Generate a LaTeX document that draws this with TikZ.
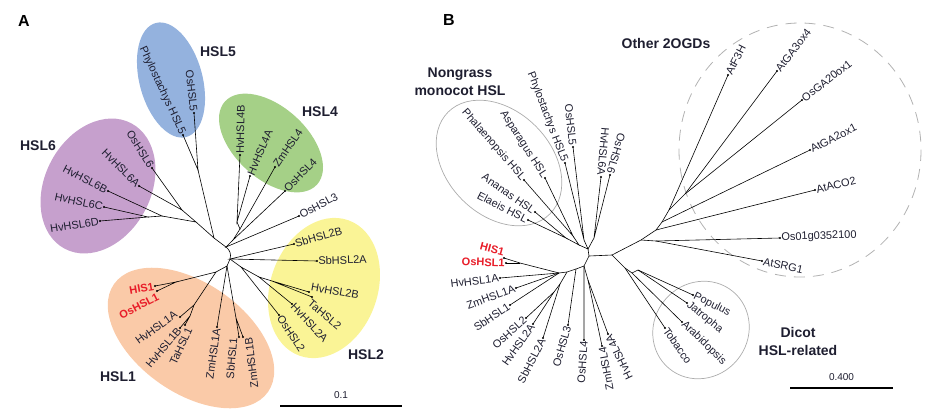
\documentclass[tikz,border=0pt]{standalone}
\usepackage{fontspec}
\setmainfont{Liberation Sans}
\usetikzlibrary{positioning}
\definecolor{lblcol}{RGB}{30,30,48}
\definecolor{hslone}{RGB}{250,202,168}
\definecolor{hsltwo}{RGB}{250,244,150}
\definecolor{hslfour}{RGB}{165,208,135}
\definecolor{hslfive}{RGB}{148,178,222}
\definecolor{hslsix}{RGB}{198,160,205}
\definecolor{hisred}{RGB}{232,28,40}

\tikzset{
  leaf/.style={font=\fontsize{11}{12}\selectfont, text=lblcol, inner sep=1.2pt},
  hisleaf/.style={leaf, font=\fontsize{11}{12}\selectfont\bfseries, text=hisred},
  clade/.style={font=\fontsize{14}{18}\selectfont\bfseries, text=lblcol, align=center},
  panel/.style={font=\fontsize{16}{18}\selectfont\bfseries},
  branch/.style={line width=0.6pt},
  tipdot/.style={radius=1.2},
  ring/.style={gray!65, line width=0.7pt},
}

\begin{document}
\begin{tikzpicture}[x=1pt,y=-1pt]
      \useasboundingbox (0,0) rectangle (936,410);

      % clade shading, panel A
      \fill[hslsix, rotate around={62:(98,186)}] (98,186) ellipse [x radius=71, y radius=53];
      \fill[hslfive, rotate around={-75:(171,80)}] (171,80) ellipse [x radius=59, y radius=31.5];
      \fill[hslfour, rotate around={-42:(271,143)}] (271,143) ellipse [x radius=62, y radius=36];
      \fill[hsltwo, rotate around={70:(324,288)}] (324,288) ellipse [x radius=72, y radius=53.5];
      \fill[hslone, rotate around={-35:(191,338)}] (191,338) ellipse [x radius=94, y radius=55];

      % outlines, panel B
      \draw[ring, rotate around={-45:(499,163)}] (499,163) ellipse [x radius=72, y radius=52];
      \draw[ring, rotate around={50:(701,330)}] (701,330) ellipse [x radius=50, y radius=47];
      \draw[ring, gray!60, line width=0.8pt, dash pattern=on 11pt off 8pt] (800,150) ellipse [x radius=121, y radius=127];

      % ---------- panel A ----------
      \coordinate(a6o) at (152,168);
      \coordinate(a6a) at (139,186);
      \coordinate(a6b) at (108,191);
      \coordinate(a6c) at (104,207);
      \coordinate(a6d) at (100,221);
      \coordinate(a5p) at (183,135);
      \coordinate(a5o) at (194,113);
      \coordinate(a4b) at (240,155);
      \coordinate(a4a) at (250,176);
      \coordinate(a4z) at (275,167);
      \coordinate(a4o) at (285,191);
      \coordinate(a3o) at (299,216);
      \coordinate(a2sb) at (294,244);
      \coordinate(a2sa) at (317,261);
      \coordinate(a2hb) at (309,292);
      \coordinate(a2ta) at (312,297);
      \coordinate(a2ha) at (292,304);
      \coordinate(a2os) at (279,315);
      \coordinate(a1zb) at (243,337);
      \coordinate(a1sb) at (239,337);
      \coordinate(a1za) at (217,327);
      \coordinate(a1ta) at (185,325);
      \coordinate(a1hb) at (180,328);
      \coordinate(a1ha) at (180,317);
      \coordinate(a1os) at (157,291);
      \coordinate(a1his) at (155,286);

      \coordinate(h5) at (198,170);
      \coordinate(h6x) at (182,210);
      \coordinate(h6cd) at (148,217);
      \coordinate(h6y) at (162,216);
      \coordinate(h6) at (196,222);
      \coordinate(h56) at (214,238);
      \coordinate(cA1) at (226,247);
      \coordinate(h4ab) at (237,222);
      \coordinate(h4z) at (240,229);
      \coordinate(h4) at (233,240);
      \coordinate(cA2) at (230,259);
      \coordinate(h2bt) at (272,281);
      \coordinate(h2a) at (259,277);
      \coordinate(h2) at (241,267);
      \coordinate(h1o) at (176,282);
      \coordinate(h1bt) at (190,316);
      \coordinate(h1h) at (194,305);
      \coordinate(h1ho) at (216,272);
      \coordinate(h1) at (227,266);
      \coordinate(h1sz) at (236,318);

      \draw[branch] (a5p) -- (h5) -- (a5o);
      \draw[branch] (a6o) -- (h6x) -- (a6a);
      \draw[branch] (a6c) -- (h6cd) -- (a6d);
      \draw[branch] (a6b) -- (h6y) -- (h6cd);
      \draw[branch] (h6x) -- (h6) -- (h6y);
      \draw[branch] (h5) -- (h56) -- (h6);
      \draw[branch] (h56) -- (cA1);
      \draw[branch] (a4b) -- (h4ab) -- (a4a);
      \draw[branch] (h4ab) -- (h4z) -- (a4z);
      \draw[branch] (h4z) -- (h4) -- (a4o);
      \draw[branch] (h4) -- (cA1) -- (a3o);
      \draw[branch] (cA1) to[bend left=35] (cA2);
      \draw[branch] (a2sb) -- (cA2) -- (a2sa);
      \draw[branch] (a2hb) -- (h2bt) -- (a2ta);
      \draw[branch] (h2bt) -- (h2a) -- (a2ha);
      \draw[branch] (h2a) -- (h2) -- (a2os);
      \draw[branch] (h2) -- (cA2);
      \draw[branch] (a1his) -- (h1o) -- (a1os);
      \draw[branch] (a1hb) -- (h1bt) -- (a1ta);
      \draw[branch] (h1bt) -- (h1h) -- (a1ha);
      \draw[branch] (h1o) -- (h1ho) -- (h1h);
      \draw[branch] (a1sb) -- (h1sz) -- (a1zb);
      \draw[branch] (h1ho) -- (h1) -- (a1za);
      \draw[branch] (h1sz) -- (h1) -- (cA2);

      \foreach \t in {a6o,a6a,a6b,a6c,a6d,a5p,a5o,a4b,a4a,a4z,a4o,a3o,a2sb,a2sa,a2hb,a2ta,a2ha,a2os,a1zb,a1sb,a1za,a1ta,a1hb,a1ha,a1os,a1his}
        \fill[tipdot] (\t) circle;

      \node[leaf, anchor=east, rotate=-58] (ta6o) at (a6o) {OsHSL6};
      \node[leaf, anchor=east, rotate=-45] (ta6a) at (a6a) {HvHSL6A};
      \node[leaf, anchor=east, rotate=-27] (ta6b) at (a6b) {HvHSL6B};
      \node[leaf, anchor=east, rotate=-12] (ta6c) at (a6c) {HvHSL6C};
      \node[leaf, anchor=east, rotate=9] (ta6d) at (a6d) {HvHSL6D};
      \node[leaf, anchor=east, rotate=-65] (ta5p) at (a5p) {Phylostachys HSL5};
      \node[leaf, anchor=east, rotate=-84] (ta5o) at (a5o) {OsHSL5};
      \node[leaf, anchor=west, rotate=89] (ta4b) at (a4b) {HvHSL4B};
      \node[leaf, anchor=west, rotate=67] (ta4a) at (a4a) {HvHSL4A};
      \node[leaf, anchor=west, rotate=56] (ta4z) at (a4z) {ZmHSL4};
      \node[leaf, anchor=west, rotate=46] (ta4o) at (a4o) {OsHSL4};
      \node[leaf, anchor=west, rotate=28] (ta3o) at (a3o) {OsHSL3};
      \node[leaf, anchor=west, rotate=16] (ta2sb) at (a2sb) {SbHSL2B};
      \node[leaf, anchor=west, rotate=2] (ta2sa) at (a2sa) {SbHSL2A};
      \node[leaf, anchor=south west, rotate=-10] (ta2hb) at (a2hb) {HvHSL2B};
      \node[leaf, anchor=north west, rotate=-40] (ta2ta) at (a2ta) {TaHSL2};
      \node[leaf, anchor=west, rotate=-47] (ta2ha) at (a2ha) {HvHSL2A};
      \node[leaf, anchor=west, rotate=-57] (ta2os) at (a2os) {OsHSL2};
      \node[leaf, anchor=north east, rotate=97] (ta1zb) at (a1zb) {ZmHSL1B};
      \node[leaf, anchor=south east, rotate=85] (ta1sb) at (a1sb) {SbHSL1};
      \node[leaf, anchor=east, rotate=82] (ta1za) at (a1za) {ZmHSL1A};
      \node[leaf, anchor=north east, rotate=65] (ta1ta) at (a1ta) {TaHSL1};
      \node[leaf, anchor=east, rotate=50] (ta1hb) at (a1hb) {HvHSL1B};
      \node[leaf, anchor=south east, rotate=36] (ta1ha) at (a1ha) {HvHSL1A};
      \node[hisleaf, anchor=north east, rotate=27] (ta1os) at (a1os) {OsHSL1};
      \node[hisleaf, anchor=east, rotate=10] (ta1his) at (a1his) {HIS1};

      \node[panel] (pA) at (24,21) {A};
      \node[clade] (cl6) at (38,146) {HSL6};
      \node[clade] (cl5) at (218,52) {HSL5};
      \node[clade] (cl4) at (320,112) {HSL4};
      \node[clade] (cl2) at (366,355) {HSL2};
      \node[clade] (cl1) at (118,377) {HSL1};

      \coordinate(sA1) at (280,406);
      \coordinate(sA2) at (402,406);
      \draw[line width=1.4pt] (sA1) -- (sA2) node[midway, above=3pt, font=\fontsize{10}{12}\selectfont, text=lblcol] (sAl) {0.1};

      % ---------- panel B ----------
      \coordinate(bPhal) at (524,180);
      \coordinate(bAsp) at (545,178);
      \coordinate(bAna) at (535,212);
      \coordinate(bEla) at (528,220);
      \coordinate(b5p) at (565,163);
      \coordinate(b5o) at (573,147);
      \coordinate(b6a) at (601,177);
      \coordinate(b6o) at (610,175);
      \coordinate(oF3H) at (728,75);
      \coordinate(oGAt) at (777,71);
      \coordinate(oGAtw) at (802,100);
      \coordinate(oGAz) at (810,150);
      \coordinate(oACO) at (815,190);
      \coordinate(oOs) at (780,238);
      \coordinate(oSRG) at (762,261);
      \coordinate(dPop) at (693,295);
      \coordinate(dJat) at (687,303);
      \coordinate(dAra) at (682,322);
      \coordinate(dTob) at (665,328);
      \coordinate(b1his) at (504,258);
      \coordinate(b1os) at (506,263);
      \coordinate(b1ha) at (500,278);
      \coordinate(b1za) at (516,288);
      \coordinate(b1sb) at (510,305);
      \coordinate(b2os) at (526,318);
      \coordinate(b2ha) at (533,324);
      \coordinate(b2sa) at (543,338);
      \coordinate(b3o) at (568,325);
      \coordinate(b4o) at (584,340);
      \coordinate(b4z) at (602,346);
      \coordinate(b4h) at (608,334);

      \coordinate(bN1) at (573,236);
      \coordinate(bN2) at (566,238);
      \coordinate(bN) at (579,245);
      \coordinate(b5) at (584,240);
      \coordinate(b6) at (594,238);
      \coordinate(bU) at (588,249);
      \coordinate(bL) at (589,256);
      \coordinate(bR) at (612,255);
      \coordinate(o2) at (641,240);
      \coordinate(o3) at (656,230);
      \coordinate(o4) at (662,222);
      \coordinate(o5) at (669,210);
      \coordinate(o6) at (685,194);
      \coordinate(o7) at (656,241);
      \coordinate(d1) at (625,268);
      \coordinate(d2) at (632,273);
      \coordinate(d3) at (638,270);
      \coordinate(bL1) at (584,266);
      \coordinate(b4zh) at (588,280);
      \coordinate(bL2) at (576,269);
      \coordinate(bL3) at (567,272);
      \coordinate(b2) at (560,284);
      \coordinate(b2x) at (554,292);
      \coordinate(b1) at (559,273);
      \coordinate(b1o) at (520,263);

      \draw[branch] (bPhal) -- (bN1) -- (bAsp);
      \draw[branch] (bAna) -- (bN2) -- (bEla);
      \draw[branch] (bN1) -- (bN) -- (bN2);
      \draw[branch] (b5p) -- (b5) -- (b5o);
      \draw[branch] (b6a) -- (b6) -- (b6o);
      \draw[branch] (bN) -- (bU) -- (b5);
      \draw[branch] (b6) -- (bU) -- (bL) -- (bR);
      \draw[branch] (bR) -- (o2) -- (o3) -- (o4) -- (o5) -- (o6) -- (oGAt);
      \draw[branch] (o6) -- (oGAtw);
      \draw[branch] (o5) -- (oF3H);
      \draw[branch] (o4) -- (oGAz);
      \draw[branch] (o3) -- (oACO);
      \draw[branch] (o2) -- (o7) -- (oOs);
      \draw[branch] (o7) -- (oSRG);
      \draw[branch] (bR) -- (d1) -- (dTob);
      \draw[branch] (d1) -- (d2) -- (dAra);
      \draw[branch] (d2) -- (d3) -- (dPop);
      \draw[branch] (d3) -- (dJat);
      \draw[branch] (bL) -- (bL1) -- (b4o);
      \draw[branch] (bL1) -- (b4zh) -- (b4z);
      \draw[branch] (b4zh) -- (b4h);
      \draw[branch] (bL1) -- (bL2) -- (b3o);
      \draw[branch] (bL2) -- (bL3) -- (b2) -- (b2sa);
      \draw[branch] (b2) -- (b2x) -- (b2ha);
      \draw[branch] (b2x) -- (b2os);
      \draw[branch] (bL3) -- (b1) -- (b1ha);
      \draw[branch] (b1) -- (b1za);
      \draw[branch] (b1) -- (b1sb);
      \draw[branch] (b1) -- (b1o) -- (b1his);
      \draw[branch] (b1o) -- (b1os);

      \foreach \t in {bPhal,bAsp,bAna,bEla,b5p,b5o,b6a,b6o,oF3H,oGAt,oGAtw,oGAz,oACO,oOs,oSRG,dPop,dJat,dAra,dTob,b1his,b1os,b1ha,b1za,b1sb,b2os,b2ha,b2sa,b3o,b4o,b4z,b4h}
        \fill[tipdot] (\t) circle;

      \node[leaf, anchor=east, rotate=-49] (tPhal) at (bPhal) {Phalaenopsis HSL};
      \node[leaf, anchor=east, rotate=-57] (tAsp) at (bAsp) {Asparagus HSL};
      \node[leaf, anchor=east, rotate=-35] (tAna) at (bAna) {Ananas HSL};
      \node[leaf, anchor=east, rotate=-27] (tEla) at (bEla) {Elaeis HSL};
      \node[leaf, anchor=east, rotate=-69] (tb5p) at (b5p) {Phylostachys HSL5};
      \node[leaf, anchor=east, rotate=-84] (tb5o) at (b5o) {OsHSL5};
      \node[leaf, anchor=east, rotate=-95] (tb6a) at (b6a) {HvHSL6A};
      \node[leaf, anchor=east, rotate=-106] (tb6o) at (b6o) {OsHSL6};
      \node[leaf, anchor=west, rotate=63] (tF3H) at (oF3H) {AtF3H};
      \node[leaf, anchor=west, rotate=52] (tGAt) at (oGAt) {AtGA3ox4};
      \node[leaf, anchor=west, rotate=38] (tGAtw) at (oGAtw) {OsGA20ox1};
      \node[leaf, anchor=west, rotate=27] (tGAz) at (oGAz) {AtGA2ox1};
      \node[leaf, anchor=west, rotate=14] (tACO) at (oACO) {AtACO2};
      \node[leaf, anchor=west, rotate=2] (tOs) at (oOs) {Os01g0352100};
      \node[leaf, anchor=west, rotate=-12] (tSRG) at (oSRG) {AtSRG1};
      \node[leaf, anchor=west, rotate=-27] (tPop) at (dPop) {Populus};
      \node[leaf, anchor=west, rotate=-39] (tJat) at (dJat) {Jatropha};
      \node[leaf, anchor=west, rotate=-44] (tAra) at (dAra) {Arabidopsis};
      \node[leaf, anchor=west, rotate=-55] (tTob) at (dTob) {Tobacco};
      \node[hisleaf, anchor=south east, rotate=-15] (tb1his) at (b1his) {HIS1};
      \node[hisleaf, anchor=east, rotate=-2] (tb1os) at (b1os) {OsHSL1};
      \node[leaf, anchor=east, rotate=7] (tb1ha) at (b1ha) {HvHSL1A};
      \node[leaf, anchor=east, rotate=20] (tb1za) at (b1za) {ZmHSL1A};
      \node[leaf, anchor=east, rotate=34] (tb1sb) at (b1sb) {SbHSL1};
      \node[leaf, anchor=east, rotate=42] (tb2os) at (b2os) {OsHSL2};
      \node[leaf, anchor=east, rotate=55] (tb2ha) at (b2ha) {HvHSL2A};
      \node[leaf, anchor=east, rotate=63] (tb2sa) at (b2sa) {SbHSL2A};
      \node[leaf, anchor=east, rotate=74] (tb3o) at (b3o) {OsHSL3};
      \node[leaf, anchor=east, rotate=86] (tb4o) at (b4o) {OsHSL4};
      \node[leaf, anchor=east, rotate=100] (tb4z) at (b4z) {ZmHSL4};
      \node[leaf, anchor=east, rotate=116] (tb4h) at (b4h) {HvHSL4A};

      \node[panel] (pB) at (449,20) {B};
      \node[clade] (clN) at (460,82) {Nongrass\\monocot HSL};
      \node[clade] (clO) at (666,43) {Other 2OGDs};
      \node[clade] (clD) at (798,341) {Dicot\\HSL-related};

      \coordinate(sB1) at (790,388);
      \coordinate(sB2) at (893,388);
      \draw[line width=1.4pt] (sB1) -- (sB2) node[midway, above=3pt, font=\fontsize{10}{12}\selectfont, text=lblcol] (sBl) {0.400};
    \end{tikzpicture}
\end{document}
